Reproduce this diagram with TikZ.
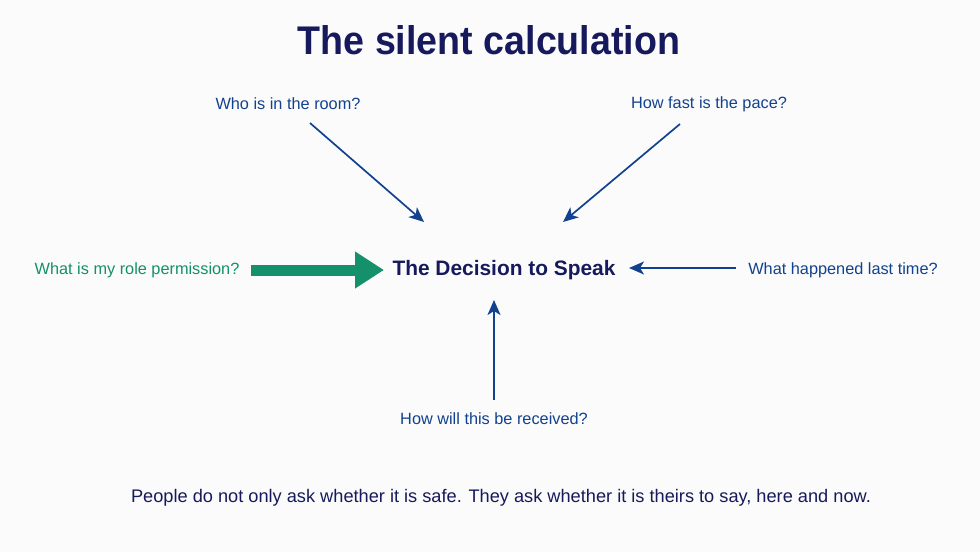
\documentclass[tikz,border=0pt]{standalone}
\usepackage{fontspec}
\setmainfont{Liberation Sans}
\usetikzlibrary{arrows.meta}
\definecolor{bgc}{HTML}{FBFBFB}
\definecolor{navy}{HTML}{161A5C}
\definecolor{qblue}{HTML}{12428F}
\definecolor{qgreen}{HTML}{14906A}
\tikzset{
  qlabel/.style={text=qblue, font=\fontsize{16.3}{19}\selectfont, inner sep=0pt, anchor=center},
  conn/.style={draw=qblue, line width=1.7pt, -{Stealth[length=15pt,width=13pt,inset=4pt]}},
}
\begin{document}
\begin{tikzpicture}[x=1pt,y=-1pt]
\fill[bgc] (0,0) rectangle (980,552);
\useasboundingbox (0,0) rectangle (980,552);
\node[text=navy, font=\bfseries\fontsize{40}{46}\selectfont, inner sep=0pt, xscale=0.94] (title) at (489,40) {The silent calculation};
\node[qlabel] (who) at (288,104) {Who is in the room?};
\node[qlabel] (pace) at (709,104) {How fast is the pace?};
\node[qlabel, text=qgreen] (role) at (137,270) {What is my role permission?};
\node[qlabel] (last) at (843,270) {What happened last time?};
\node[qlabel] (recv) at (494,419) {How will this be received?};
\node[text=navy, font=\bfseries\fontsize{20.9}{25}\selectfont, inner sep=0pt] (dec) at (504,270) {The Decision to Speak};
\node[text=navy, font=\fontsize{18.2}{22}\selectfont, inner sep=0pt] (note) at (501,498) {People do not only ask whether it is safe. They ask whether it is theirs to say, here and now.};
\coordinate (whoS) at (310,123);
\coordinate (whoT) at (424,222);
\coordinate (paceS) at (680,124);
\coordinate (paceT) at (563,222);
\coordinate (roleS) at (251,270);
\coordinate (roleT) at (384,270);
\coordinate (lastS) at (736,268);
\coordinate (lastT) at (629,268);
\coordinate (recvS) at (494,400);
\coordinate (recvT) at (494,300);
\draw[conn] (whoS) -- (whoT);
\draw[conn] (paceS) -- (paceT);
\draw[conn] (lastS) -- (lastT);
\draw[conn] (recvS) -- (recvT);
\draw[draw=qgreen, line width=11pt, -{Triangle[length=29pt,width=35pt]}] (roleS) -- (roleT);
\end{tikzpicture}
\end{document}
